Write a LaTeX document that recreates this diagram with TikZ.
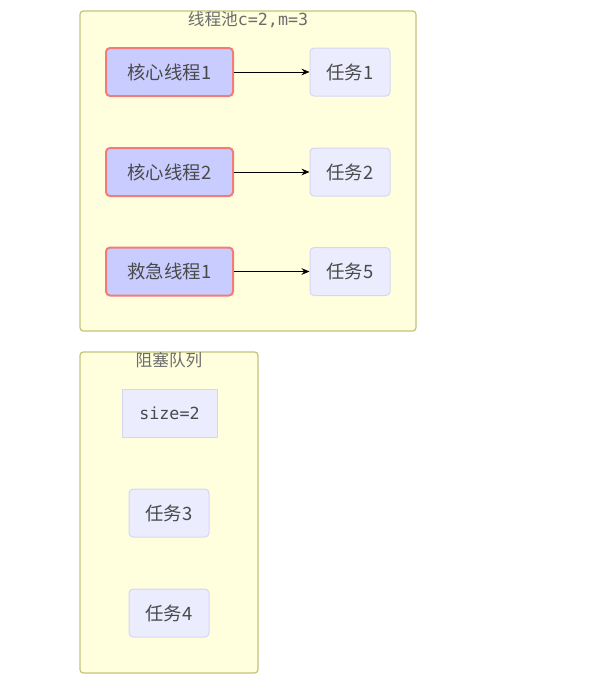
\documentclass[tikz,border=0pt]{standalone}
\usepackage{fontspec}
\setmainfont{Noto Sans CJK SC}
\newfontfamily\monofont{DejaVu Sans Mono}
\usetikzlibrary{arrows.meta}
\definecolor{poolfill}{HTML}{FFFFDE}
\definecolor{pooldraw}{HTML}{C4C47A}
\definecolor{corefill}{HTML}{C9CCFF}
\definecolor{coredraw}{HTML}{F47C78}
\definecolor{taskfill}{HTML}{ECECFF}
\definecolor{taskdraw}{HTML}{D6D6F2}
\definecolor{labeltext}{HTML}{4A4A4A}

\begin{document}
\begin{tikzpicture}[x=0.75pt,y=-0.75pt,
	every node/.style={font=\fontsize{13.8}{15}\selectfont, text=labeltext},
	group/.style={draw=pooldraw, fill=poolfill, line width=0.9pt, rounded corners=2.5pt},
	grouptitle/.style={anchor=north, inner sep=0pt, text=gray!85!black,
		font=\fontsize{12.5}{14}\selectfont},
	core/.style={draw=coredraw, fill=corefill, line width=1.5pt, rounded corners=3pt,
		minimum width=95.25pt, minimum height=36pt},
	task/.style={draw=taskdraw, fill=taskfill, line width=0.75pt, rounded corners=3pt,
		minimum width=60pt, minimum height=36pt},
	sizebox/.style={task, rounded corners=0pt, minimum width=71.25pt,
		font=\fontsize{12.5}{14}\selectfont},
	link/.style={-{Stealth[length=6pt,width=5pt]}, line width=0.6pt, black}]
	\useasboundingbox (0,0) rectangle (599,683);

	% thread pool
	\node[group, minimum width=252pt, minimum height=240pt] (pool) at (248,171) {};
	\node[grouptitle] (pooltitle) at (248,11) {线程池{\monofont c=2,m=3}};
	\node[core] (core1) at (169.5,72) {核心线程1};
	\node[core] (core2) at (169.5,172) {核心线程2};
	\node[core] (rescue1) at (169.5,271.5) {救急线程1};
	\node[task] (task1) at (350,72) {任务1};
	\node[task] (task2) at (350,172) {任务2};
	\node[task] (task5) at (350,271.5) {任务5};
	\draw[link] (core1) -- (task1);
	\draw[link] (core2) -- (task2);
	\draw[link] (rescue1) -- (task5);

	% blocking queue
	\node[group, minimum width=133.5pt, minimum height=240.75pt] (queue) at (169,512.5) {};
	\node[grouptitle] (queuetitle) at (169,352) {阻塞队列};
	\node[sizebox] (qsize) at (169.5,413) {\monofont size=2};
	\node[task] (task3) at (169,513) {任务3};
	\node[task] (task4) at (169,613) {任务4};
\end{tikzpicture}
\end{document}
